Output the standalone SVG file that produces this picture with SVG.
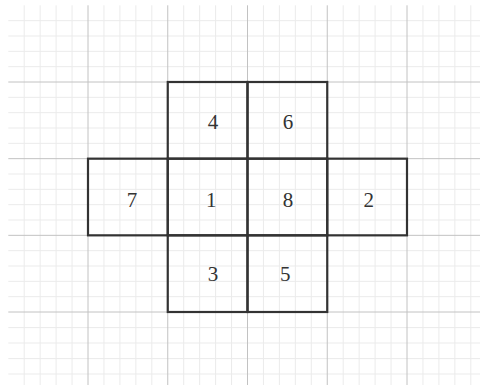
<svg xmlns="http://www.w3.org/2000/svg" width="480" height="385" viewBox="0 0 480 385">
<style>
.minor{stroke:#ebebeb;stroke-width:1;fill:none}
.major{stroke:#c2c2c2;stroke-width:1;fill:none}
.cell rect{fill:none;stroke:#333;stroke-width:2.2}
.cell text{font-family:"Liberation Serif","Times New Roman",serif;font-size:21px;fill:#333;text-anchor:middle}
</style>
<rect x="0" y="0" width="480" height="385" fill="#fff"/>
<g id="grid">
<path class="minor" d="M24.2 5.3V385M40.15 5.3V385M56.1 5.3V385M72.05 5.3V385M103.95 5.3V385M119.9 5.3V385M135.85 5.3V385M151.8 5.3V385M183.7 5.3V385M199.65 5.3V385M215.6 5.3V385M231.55 5.3V385M263.45 5.3V385M279.4 5.3V385M295.35 5.3V385M311.3 5.3V385M343.2 5.3V385M359.15 5.3V385M375.1 5.3V385M391.05 5.3V385M422.95 5.3V385M438.9 5.3V385M454.85 5.3V385M470.8 5.3V385"/>
<path class="minor" d="M8.3 20.67H480M8.3 36H480M8.3 51.33H480M8.3 66.67H480M8.3 97.33H480M8.3 112.67H480M8.3 128H480M8.3 143.33H480M8.3 174H480M8.3 189.33H480M8.3 204.67H480M8.3 220H480M8.3 250.67H480M8.3 266H480M8.3 281.33H480M8.3 296.67H480M8.3 327.6H480M8.3 343H480M8.3 358.6H480M8.3 374H480"/>
<path class="major" d="M88 5.3V385M167.75 5.3V385M247.5 5.3V385M327.25 5.3V385M407 5.3V385M8.3 82H480M8.3 158.67H480M8.3 235.33H480M8.3 312H480"/>
</g>
<g id="node-4" class="cell"><rect x="167.75" y="82" width="79.75" height="76.67"/><text x="213" y="129">4</text></g>
<g id="node-6" class="cell"><rect x="247.5" y="82" width="79.75" height="76.67"/><text x="288" y="129">6</text></g>
<g id="node-7" class="cell"><rect x="88" y="158.67" width="79.75" height="76.67"/><text x="132" y="207">7</text></g>
<g id="node-1" class="cell"><rect x="167.75" y="158.67" width="79.75" height="76.67"/><text x="211.3" y="207">1</text></g>
<g id="node-8" class="cell"><rect x="247.5" y="158.67" width="79.75" height="76.67"/><text x="288" y="207">8</text></g>
<g id="node-2" class="cell"><rect x="327.25" y="158.67" width="79.75" height="76.67"/><text x="368.8" y="207">2</text></g>
<g id="node-3" class="cell"><rect x="167.75" y="235.33" width="79.75" height="76.67"/><text x="213" y="281">3</text></g>
<g id="node-5" class="cell"><rect x="247.5" y="235.33" width="79.75" height="76.67"/><text x="285.2" y="281">5</text></g>
<g id="connectors"></g>
</svg>
